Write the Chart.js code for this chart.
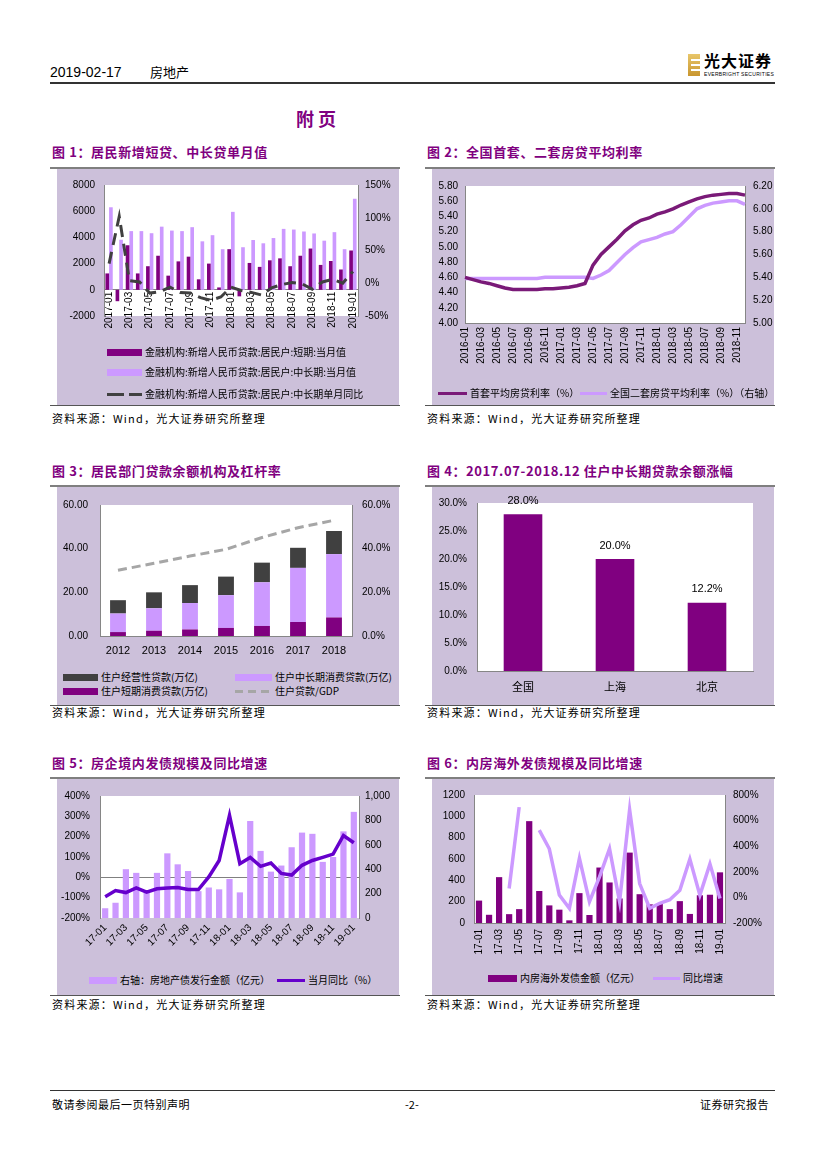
<!DOCTYPE html>
<html>
<head>
<meta charset="utf-8">
<script src="https://cdn.jsdelivr.net/npm/chart.js@4.4.0/dist/chart.umd.min.js"></script>
<style>
body{margin:0;width:827px;height:1169px;position:relative;background:#fff;font-family:"Liberation Sans","Noto Sans CJK SC",sans-serif;color:#000;overflow:hidden;}
.abs{position:absolute;}
.panel{position:absolute;background:#ccc0da;}
.topline{position:absolute;height:2px;background:#7f7f7f;}
.figtitle{position:absolute;font-family:"Noto Sans CJK SC",sans-serif;font-weight:bold;color:#800080;font-size:13px;letter-spacing:0.6px;line-height:18px;white-space:nowrap;}
.src{position:absolute;font-family:"Noto Sans CJK SC",sans-serif;font-size:11px;letter-spacing:1.2px;line-height:14px;white-space:nowrap;}
.lg{font-family:"Noto Sans CJK SC",sans-serif;font-size:10px;line-height:16px;white-space:nowrap;color:#000;}
canvas{position:absolute;}
</style>
</head>
<body>

<!-- header -->
<div class="abs" style="left:50px;top:63px;font-size:14px;line-height:18px;white-space:nowrap;">2019-02-17</div>
<div class="abs" style="left:150px;top:63px;font-size:13px;line-height:18px;font-family:'Noto Sans CJK SC',sans-serif;white-space:nowrap;">房地产</div>
<div class="abs" style="left:50px;top:82px;width:725px;height:2px;background:#333;"></div>
<div class="abs" style="left:688px;top:54px;width:12px;height:22px;background:linear-gradient(#e8c66a,#c9962f);"></div>
<div class="abs" style="left:691px;top:59px;width:9px;height:2px;background:#fff;"></div>
<div class="abs" style="left:691px;top:64px;width:9px;height:2px;background:#fff;"></div>
<div class="abs" style="left:691px;top:69px;width:9px;height:2px;background:#fff;"></div>
<div class="abs" style="left:704px;top:50px;font-family:'Noto Sans CJK SC',sans-serif;font-weight:bold;font-size:16px;line-height:20px;letter-spacing:1px;white-space:nowrap;">光大证券</div>
<div class="abs" style="left:704px;top:71px;font-size:5px;line-height:6px;letter-spacing:0.3px;white-space:nowrap;">EVERBRIGHT SECURITIES</div>

<div class="abs" style="left:296px;top:106px;font-family:'Noto Sans CJK SC',sans-serif;font-weight:bold;font-size:18px;line-height:24px;letter-spacing:4px;color:#800080;">附页</div>

<!-- titles -->
<div class="figtitle" style="left:52px;top:143px;">图 1：居民新增短贷、中长贷单月值</div>
<div class="figtitle" style="left:427px;top:143px;">图 2：全国首套、二套房贷平均利率</div>
<div class="figtitle" style="left:52px;top:462px;">图 3：居民部门贷款余额机构及杠杆率</div>
<div class="figtitle" style="left:427px;top:462px;">图 4：2017.07-2018.12 住户中长期贷款余额涨幅</div>
<div class="figtitle" style="left:52px;top:754px;">图 5：房企境内发债规模及同比增速</div>
<div class="figtitle" style="left:427px;top:754px;">图 6：内房海外发债规模及同比增速</div>

<!-- panels -->
<div class="topline" style="left:50px;top:167px;width:350px;"></div>
<div class="panel" style="left:57px;top:169px;width:342px;height:236px;"></div>
<div class="topline" style="left:425px;top:167px;width:350px;"></div>
<div class="panel" style="left:432px;top:169px;width:342px;height:236px;"></div>
<div class="topline" style="left:50px;top:485px;width:350px;"></div>
<div class="panel" style="left:57px;top:487px;width:342px;height:218px;"></div>
<div class="topline" style="left:425px;top:485px;width:350px;"></div>
<div class="panel" style="left:432px;top:487px;width:342px;height:218px;"></div>
<div class="topline" style="left:50px;top:777px;width:350px;"></div>
<div class="panel" style="left:57px;top:779px;width:342px;height:216px;"></div>
<div class="topline" style="left:425px;top:777px;width:350px;"></div>
<div class="panel" style="left:432px;top:779px;width:342px;height:216px;"></div>

<div class="abs" style="left:50px;top:405px;width:350px;height:1px;background:#555;"></div>
<div class="abs" style="left:425px;top:405px;width:350px;height:1px;background:#555;"></div>
<div class="abs" style="left:50px;top:705px;width:350px;height:1px;background:#555;"></div>
<div class="abs" style="left:425px;top:705px;width:350px;height:1px;background:#555;"></div>
<div class="abs" style="left:50px;top:995px;width:350px;height:1px;background:#555;"></div>
<div class="abs" style="left:425px;top:995px;width:350px;height:1px;background:#555;"></div>

<!-- sources -->
<div class="src" style="left:52px;top:411px;">资料来源：Wind，光大证券研究所整理</div>
<div class="src" style="left:427px;top:411px;">资料来源：Wind，光大证券研究所整理</div>
<div class="src" style="left:52px;top:705px;">资料来源：Wind，光大证券研究所整理</div>
<div class="src" style="left:427px;top:705px;">资料来源：Wind，光大证券研究所整理</div>
<div class="src" style="left:52px;top:997px;">资料来源：Wind，光大证券研究所整理</div>
<div class="src" style="left:427px;top:997px;">资料来源：Wind，光大证券研究所整理</div>

<!-- footer -->
<div class="abs" style="left:50px;top:1090px;width:725px;height:1px;background:#333;"></div>
<div class="src" style="left:52px;top:1097px;letter-spacing:0.5px;">敬请参阅最后一页特别声明</div>
<div class="src" style="left:405px;top:1097px;letter-spacing:0;">-2-</div>
<div class="src" style="left:700px;top:1097px;letter-spacing:0.5px;">证券研究报告</div>

<canvas id="c1" width="343" height="176" style="left:57px;top:170px;"></canvas>
<canvas id="c2" width="343" height="200" style="left:432px;top:170px;"></canvas>
<canvas id="c3" width="343" height="175" style="left:57px;top:487px;"></canvas>
<canvas id="c4" width="343" height="210" style="left:432px;top:487px;"></canvas>
<canvas id="c5" width="343" height="175" style="left:57px;top:780px;"></canvas>
<canvas id="c6" width="343" height="185" style="left:432px;top:780px;"></canvas>

<script>
// ---- data ----

// chart 1
const months1 = ["2017-01","2017-02","2017-03","2017-04","2017-05","2017-06","2017-07","2017-08","2017-09","2017-10","2017-11","2017-12",
  "2018-01","2018-02","2018-03","2018-04","2018-05","2018-06","2018-07","2018-08","2018-09","2018-10","2018-11","2018-12","2019-01"];
const shortLoan = [1250,-870,3400,1250,1800,2600,1080,2170,2530,800,2000,180,3100,-500,2050,1750,2250,2400,1800,2600,3150,1900,2200,1550,3000];
const longLoan = [6300,3820,4480,4480,4320,4820,4520,4480,4780,3700,4170,3100,5950,3250,3800,3550,3950,4650,4600,4450,4300,3750,4400,3100,6950];
const longYoY = [30,102,4,2,-15,-13,-6,-14,-15,-22,-26,-21,-6,-11,-14,-18,-7,-2,1,-1,-9,2,6,0,18];

// chart 2
const months2 = ["2016-01","2016-02","2016-03","2016-04","2016-05","2016-06","2016-07","2016-08","2016-09","2016-10","2016-11","2016-12",
  "2017-01","2017-02","2017-03","2017-04","2017-05","2017-06","2017-07","2017-08","2017-09","2017-10","2017-11","2017-12",
  "2018-01","2018-02","2018-03","2018-04","2018-05","2018-06","2018-07","2018-08","2018-09","2018-10","2018-11","2018-12"];
const firstRate = [4.60,4.57,4.54,4.52,4.49,4.46,4.44,4.44,4.44,4.44,4.45,4.45,4.46,4.47,4.49,4.52,4.76,4.90,5.00,5.10,5.21,5.29,5.35,5.38,
  5.43,5.46,5.50,5.55,5.59,5.63,5.66,5.68,5.69,5.70,5.70,5.68];
const secondRate = [5.39,5.39,5.39,5.39,5.39,5.39,5.39,5.39,5.39,5.39,5.40,5.40,5.40,5.40,5.40,5.40,5.39,5.42,5.46,5.53,5.60,5.66,5.71,5.73,
  5.75,5.78,5.80,5.86,5.93,6.00,6.03,6.05,6.06,6.07,6.07,6.04];

// chart 3
const years3 = ["2012","2013","2014","2015","2016","2017","2018"];
const shortCons = [1.8,2.4,3.0,3.7,4.6,6.4,8.5];
const midCons = [8.5,10.3,12.1,15.0,20.0,24.8,29.0];
const bizLoan = [6.1,7.3,8.2,8.5,9.0,9.2,10.6];
const loanGdp = [30.1,33.3,36.6,39.7,45.1,49.6,53.0];

// chart 4
const cities4 = ["全国","上海","北京"];
const growth4 = [28.0,20.0,12.2];

// chart 5
const months5 = ["17-01","17-02","17-03","17-04","17-05","17-06","17-07","17-08","17-09","17-10","17-11","17-12",
  "18-01","18-02","18-03","18-04","18-05","18-06","18-07","18-08","18-09","18-10","18-11","18-12","19-01"];
const bondAmt = [80,125,400,370,210,370,530,440,385,220,250,235,320,210,795,550,380,430,580,700,690,460,500,710,870];
const bondYoY = [-95,-65,-75,-52,-73,-56,-52,-50,-60,-60,2,83,305,67,98,54,70,19,11,59,83,98,114,206,170];

// chart 6
const months6 = months5;
const overseasAmt = [210,77,430,83,130,955,300,165,125,25,280,75,520,380,230,660,270,175,180,130,205,85,260,265,475];
const overseasYoY = [null,null,null,70,705,null,525,380,18,-85,305,-33,160,380,-33,685,108,-85,-46,-18,56,300,18,262,-8];

// ---- colours ----
const darkPurple = "#800080";
const lightPurple = "#cc99ff";
const darkGrey = "#404040";
const axisGrey = "#868686";

Chart.defaults.font.family = '"Liberation Sans", "Noto Sans CJK SC", sans-serif';
Chart.defaults.font.size = 10;
Chart.defaults.color = "#000";
Chart.defaults.animation = false;
Chart.defaults.responsive = false;
Chart.defaults.plugins.legend.display = false;
Chart.defaults.plugins.tooltip.enabled = false;

// white plot area on the lavender panel
const whiteArea = {
  id: "whiteArea",
  beforeDraw(c) {
    const a = c.chartArea, ctx = c.ctx;
    ctx.save();
    ctx.fillStyle = "#fff";
    ctx.fillRect(a.left, a.top, a.right - a.left, a.bottom - a.top);
    ctx.restore();
  }
};

function fixW(w) { return s => { s.width = w; }; }
function fixH(h) { return s => { s.height = h; }; }
function everyOther(labels) { return (v, i) => (i % 2 === 0 ? labels[i] : ""); }

function yAxis(pos, min, max, step, fmt, width, pad) {
  return {
    position: pos, min: min, max: max,
    grid: { display: false, drawTicks: false },
    border: { display: true, color: axisGrey },
    ticks: { stepSize: step, padding: pad, callback: fmt, autoSkip: false },
    afterFit: fixW(width)
  };
}

// chart 1
new Chart(document.getElementById("c1"), {
  type: "bar",
  data: {
    labels: months1,
    datasets: [
      { type: "line", label: "金融机构:新增人民币贷款:居民户:中长期单月同比", data: longYoY, yAxisID: "y1",
        borderColor: darkGrey, borderWidth: 3, borderDash: [12, 7], pointRadius: 0, order: 0 },
      { label: "金融机构:新增人民币贷款:居民户:短期:当月值", data: shortLoan, backgroundColor: darkPurple,
        categoryPercentage: 0.72, barPercentage: 1.0, order: 1 },
      { label: "金融机构:新增人民币贷款:居民户:中长期:当月值", data: longLoan, backgroundColor: lightPurple,
        categoryPercentage: 0.72, barPercentage: 1.0, order: 1 }
    ]
  },
  options: {
    layout: { padding: { top: 12, bottom: 30, left: 0, right: 0 } },
    scales: {
      x: {
        position: { y: 0 },
        grid: { display: false, drawTicks: false },
        border: { display: true, color: axisGrey },
        ticks: { minRotation: 90, maxRotation: 90, autoSkip: false, padding: 2, callback: everyOther(months1) }
      },
      y: yAxis("left", -2000, 8000, 2000, v => v, 47, 9),
      y1: yAxis("right", -50, 150, 50, v => v + "%", 42, 7)
    }
  },
  plugins: [whiteArea]
});

// chart 2
new Chart(document.getElementById("c2"), {
  type: "line",
  data: {
    labels: months2,
    datasets: [
      { label: "首套平均房贷利率（%）", data: firstRate, yAxisID: "y", borderColor: "#7a1a78", borderWidth: 3.5, pointRadius: 0 },
      { label: "全国二套房贷平均利率（%）（右轴）", data: secondRate, yAxisID: "y1", borderColor: lightPurple, borderWidth: 3.5, pointRadius: 0 }
    ]
  },
  options: {
    layout: { padding: { top: 16, bottom: 0, left: 0, right: 0 } },
    scales: {
      x: {
        offset: false,
        grid: { display: false, drawTicks: false },
        border: { display: true, color: axisGrey },
        ticks: { minRotation: 90, maxRotation: 90, autoSkip: false, padding: 4, callback: everyOther(months2) },
        afterFit: fixH(47)
      },
      y: yAxis("left", 4.0, 5.8, 0.2, v => v.toFixed(2), 33, 7),
      y1: yAxis("right", 5.0, 6.2, 0.2, v => v.toFixed(2), 30, 8)
    }
  },
  plugins: [whiteArea]
});

// chart 3
new Chart(document.getElementById("c3"), {
  type: "bar",
  data: {
    labels: years3,
    datasets: [
      { type: "line", label: "住户贷款/GDP", data: loanGdp, yAxisID: "y1", borderColor: "#a6a6a6", borderWidth: 3,
        borderDash: [9, 5], pointRadius: 0, order: 0 },
      { label: "住户短期消费贷款(万亿)", data: shortCons, backgroundColor: darkPurple, stack: "s", order: 1,
        categoryPercentage: 0.5, barPercentage: 0.88 },
      { label: "住户中长期消费贷款(万亿)", data: midCons, backgroundColor: lightPurple, stack: "s", order: 1,
        categoryPercentage: 0.5, barPercentage: 0.88 },
      { label: "住户经营性贷款(万亿)", data: bizLoan, backgroundColor: darkGrey, stack: "s", order: 1,
        categoryPercentage: 0.5, barPercentage: 0.88 }
    ]
  },
  options: {
    layout: { padding: { top: 15, bottom: 0, left: 0, right: 0 } },
    scales: {
      x: {
        stacked: true,
        grid: { display: false, drawTicks: false },
        border: { display: true, color: axisGrey },
        ticks: { padding: 8, font: { size: 11 } },
        afterFit: fixH(26)
      },
      y: Object.assign(yAxis("left", 0, 60, 20, v => v.toFixed(2), 43, 12), { stacked: true }),
      y1: yAxis("right", 0, 60, 20, v => v.toFixed(1) + "%", 48, 10)
    }
  },
  plugins: [whiteArea]
});

// chart 4
const barValueLabels = {
  id: "barValueLabels",
  afterDatasetsDraw(c) {
    const ctx = c.ctx, meta = c.getDatasetMeta(0);
    ctx.save();
    ctx.font = '11px "Liberation Sans"';
    ctx.fillStyle = "#000";
    ctx.textAlign = "center";
    ctx.textBaseline = "bottom";
    meta.data.forEach((b, i) => ctx.fillText(growth4[i].toFixed(1) + "%", b.x, b.y - 8));
    ctx.restore();
  }
};
new Chart(document.getElementById("c4"), {
  type: "bar",
  data: {
    labels: cities4,
    datasets: [{ data: growth4, backgroundColor: darkPurple, categoryPercentage: 0.42, barPercentage: 1.0 }]
  },
  options: {
    layout: { padding: { top: 14, bottom: 0, left: 0, right: 22 } },
    scales: {
      x: {
        grid: { display: false, drawTicks: false },
        border: { display: true, color: axisGrey },
        ticks: { padding: 9, font: { size: 11, family: '"Noto Sans CJK SC", sans-serif' } },
        afterFit: fixH(26)
      },
      y: yAxis("left", 0, 30, 5, v => v.toFixed(1) + "%", 45, 10)
    }
  },
  plugins: [whiteArea, barValueLabels]
});

// chart 5
new Chart(document.getElementById("c5"), {
  type: "bar",
  data: {
    labels: months5,
    datasets: [
      { type: "line", label: "当月同比（%）", data: bondYoY, yAxisID: "y", borderColor: "#6600cc", borderWidth: 3.5,
        pointRadius: 0, order: 0 },
      { label: "右轴：房地产债发行金额（亿元）", data: bondAmt, yAxisID: "y1", backgroundColor: lightPurple,
        categoryPercentage: 0.6, barPercentage: 1.0, order: 1 }
    ]
  },
  options: {
    layout: { padding: { top: 12, bottom: 0, left: 0, right: 0 } },
    scales: {
      x: {
        grid: { display: false, drawTicks: false },
        border: { display: false },
        ticks: { minRotation: 45, maxRotation: 45, autoSkip: false, padding: 4, callback: everyOther(months5) },
        afterFit: fixH(37)
      },
      y: {
        position: "left", min: -200, max: 400,
        grid: { drawTicks: false, color: c => (c.tick && c.tick.value === 0 ? "#808080" : "rgba(0,0,0,0)") },
        border: { display: true, color: axisGrey },
        ticks: { stepSize: 100, padding: 10, callback: v => v + "%" },
        afterFit: fixW(43)
      },
      y1: yAxis("right", 0, 1000, 200, v => v.toLocaleString("en-US"), 41, 6)
    }
  },
  plugins: [whiteArea]
});

// chart 6
new Chart(document.getElementById("c6"), {
  type: "bar",
  data: {
    labels: months6,
    datasets: [
      { type: "line", label: "同比增速", data: overseasYoY, yAxisID: "y1", borderColor: lightPurple, borderWidth: 3.5,
        pointRadius: 0, spanGaps: false, order: 0 },
      { label: "内房海外发债金额（亿元）", data: overseasAmt, yAxisID: "y", backgroundColor: darkPurple,
        categoryPercentage: 0.62, barPercentage: 1.0, order: 1 }
    ]
  },
  options: {
    layout: { padding: { top: 13, bottom: 0, left: 0, right: 0 } },
    scales: {
      x: {
        grid: { display: false, drawTicks: false },
        border: { display: true, color: axisGrey },
        ticks: { minRotation: 90, maxRotation: 90, autoSkip: false, padding: 6, callback: everyOther(months6) },
        afterFit: fixH(42)
      },
      y: yAxis("left", 0, 1200, 200, v => v, 42, 9),
      y1: yAxis("right", -200, 800, 200, v => v + "%", 50, 8)
    }
  },
  plugins: [whiteArea]
});

// ---- legends (html) ----
function addLegend(items) {
  items.forEach(it => {
    const sw = document.createElement("div");
    sw.className = "abs";
    sw.style.left = it.x + "px";
    sw.style.width = it.w + "px";
    if (it.kind === "bar") {
      sw.style.top = (it.y - 3) + "px";
      sw.style.height = "7px";
      sw.style.background = it.color;
    } else {
      sw.style.top = (it.y - 1) + "px";
      sw.style.height = "3px";
      sw.style.background = it.kind === "dash"
        ? "repeating-linear-gradient(to right," + it.color + " 0 " + it.dash + "px, transparent " + it.dash + "px " + (it.dash + 5) + "px)"
        : it.color;
    }
    document.body.appendChild(sw);
    const t = document.createElement("div");
    t.className = "abs lg";
    t.style.left = (it.x + it.w + 3) + "px";
    t.style.top = (it.y - 8) + "px";
    t.textContent = it.text;
    document.body.appendChild(t);
  });
}

addLegend([
  { x: 107, y: 352, w: 35, kind: "bar", color: darkPurple, text: "金融机构:新增人民币贷款:居民户:短期:当月值" },
  { x: 107, y: 372, w: 35, kind: "bar", color: lightPurple, text: "金融机构:新增人民币贷款:居民户:中长期:当月值" },
  { x: 107, y: 394, w: 35, kind: "dash", dash: 17, color: darkGrey, text: "金融机构:新增人民币贷款:居民户:中长期单月同比" },
  { x: 438, y: 393, w: 29, kind: "line", color: "#7a1a78", text: "首套平均房贷利率（%）" },
  { x: 580, y: 393, w: 27, kind: "line", color: lightPurple, text: "全国二套房贷平均利率（%）（右轴）" },
  { x: 63, y: 677, w: 35, kind: "bar", color: darkGrey, text: "住户经营性贷款(万亿)" },
  { x: 235, y: 677, w: 37, kind: "bar", color: lightPurple, text: "住户中长期消费贷款(万亿)" },
  { x: 63, y: 691, w: 35, kind: "bar", color: darkPurple, text: "住户短期消费贷款(万亿)" },
  { x: 235, y: 691, w: 37, kind: "dash", dash: 8, color: "#a6a6a6", text: "住户贷款/GDP" },
  { x: 89, y: 980, w: 28, kind: "bar", color: lightPurple, text: "右轴：房地产债发行金额（亿元）" },
  { x: 277, y: 980, w: 28, kind: "line", color: "#6600cc", text: "当月同比（%）" },
  { x: 488, y: 978, w: 29, kind: "bar", color: darkPurple, text: "内房海外发债金额（亿元）" },
  { x: 653, y: 978, w: 27, kind: "line", color: lightPurple, text: "同比增速" }
]);
</script>
</body>
</html>
